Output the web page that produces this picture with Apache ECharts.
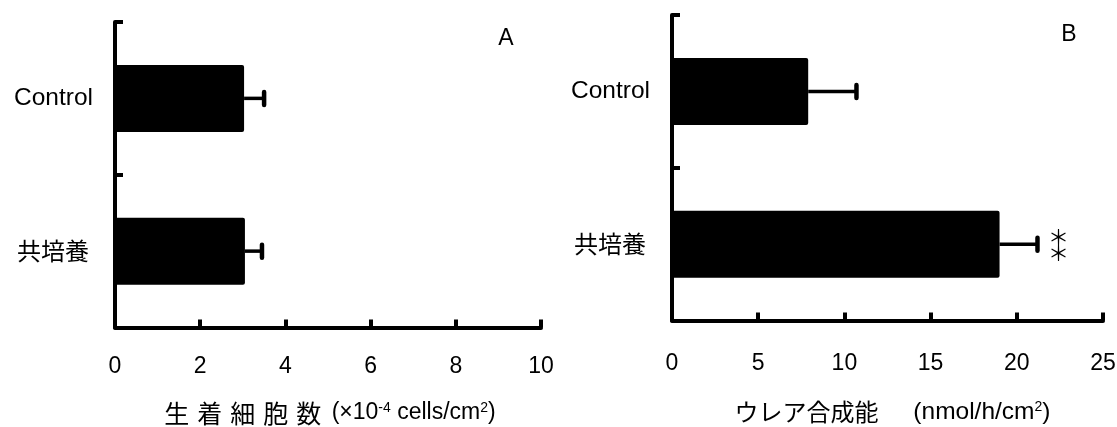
<!DOCTYPE html>
<html>
<head>
<meta charset="utf-8">
<script src="https://cdn.jsdelivr.net/npm/echarts@6/dist/echarts.min.js"></script>
<style>
html,body{margin:0;padding:0;background:#fff;}
#chart{width:1117px;height:427px;}
</style>
</head>
<body>
<div id="chart"></div>
<script>
// ---- data ----
const categories = ['Control', '共培養'];
const cellsMean = [3.03, 3.05];
const cellsErr = [0.47, 0.40];
const ureaMean = [7.9, 19.0];
const ureaErr = [2.8, 2.2];
const ureaSig = ['', '**'];
const cellsAxis = { min: 0, max: 10, interval: 2 };
const ureaAxis = { min: 0, max: 25, interval: 5 };
const panelLabels = ['A', 'B'];

const FONT = "'Liberation Sans', 'Noto Sans CJK JP', sans-serif";
const CJK = "'Noto Sans CJK JP', sans-serif";
const chart = echarts.init(document.getElementById('chart'));

function errRenderer(sig) {
  return function (params, api) {
    const cat = api.value(0), mean = api.value(1), err = api.value(2);
    const p0 = api.coord([mean, cat]);
    const p1 = api.coord([mean + err, cat]);
    const children = [
      { type: 'line', shape: { x1: p0[0], y1: p0[1], x2: p1[0], y2: p1[1] },
        style: { stroke: '#000', lineWidth: 3.5 } },
      { type: 'line', shape: { x1: p1[0], y1: p1[1] - 6.5, x2: p1[0], y2: p1[1] + 6.5 },
        style: { stroke: '#000', lineWidth: 4.5, lineCap: 'round' } }
    ];
    const s = sig ? sig[params.dataIndex] : '';
    if (s) {
      children.push({ type: 'text', x: p1[0] + 21, y: p1[1] + 1,
        style: { text: s.split('').map(() => '＊').join('\n'), fill: '#000',
          font: "21px 'Noto Sans CJK JP', sans-serif", lineHeight: 16,
          align: 'center', verticalAlign: 'middle' } });
    }
    return { type: 'group', children };
  };
}

const axisLineStyle = { show: true, lineStyle: { color: '#000', width: 4 } };
const tickStyle = { show: true, inside: true, length: 8, lineStyle: { color: '#000', width: 4 } };
const nameRich = {
  c: { fontSize: 25, lineHeight: 24, fontFamily: CJK, color: '#000', padding: [0, 4, 0, 4] },
  j: { fontSize: 24, lineHeight: 24, fontFamily: CJK, color: '#000', padding: [0, 4, 0, 10] },
  n: { fontSize: 23, lineHeight: 24, fontFamily: FONT, color: '#000' },
  m: { fontSize: 24.5, lineHeight: 24, fontFamily: FONT, color: '#000' },
  s: { fontSize: 14, lineHeight: 14, verticalAlign: 'top', fontFamily: FONT, color: '#000' }
};

function valueAxis(idx, ax, margin, name, nameGap) {
  return {
    type: 'value', gridIndex: idx, min: ax.min, max: ax.max, interval: ax.interval,
    axisLine: axisLineStyle, axisTick: tickStyle, splitLine: { show: false },
    axisLabel: { color: '#000', fontSize: 23, fontFamily: FONT, margin: margin },
    name: name, nameLocation: 'middle', nameGap: nameGap,
    nameTextStyle: { color: '#000', fontFamily: FONT, rich: nameRich }
  };
}
function catAxis(idx) {
  return {
    type: 'category', gridIndex: idx, data: categories, inverse: true,
    axisLine: axisLineStyle, axisTick: tickStyle,
    axisLabel: {
      color: '#000', fontSize: 24.5, fontFamily: FONT, margin: 22,
      formatter: v => (/[^\x00-\x7f]/.test(v) ? '{k|' + v + '}' : v),
      rich: { k: { fontSize: 24, fontFamily: CJK, color: '#000', padding: [0, 4, 0, 0] } }
    }
  };
}

const option = {
  backgroundColor: '#fff',
  animation: false,
  title: [
    { text: panelLabels[0], left: 501, top: 22, textAlign: 'center',
      textStyle: { fontSize: 23, fontWeight: 'normal', color: '#000', fontFamily: FONT } },
    { text: panelLabels[1], left: 1064, top: 18, textAlign: 'center',
      textStyle: { fontSize: 23, fontWeight: 'normal', color: '#000', fontFamily: FONT } }
  ],
  grid: [
    { left: 115, right: 576, top: 22, bottom: 99.5, outerBoundsMode: 'none', containLabel: false },
    { left: 672, right: 14, top: 15, bottom: 106.5, outerBoundsMode: 'none', containLabel: false }
  ],
  xAxis: [
    valueAxis(0, cellsAxis, 28,
      '{c|生}{c|着}{c|細}{c|胞}{c|数}{n| (×10}{s|-4}{n| cells/cm}{s|2}{n|)}', 73.5),
    valueAxis(1, ureaAxis, 32, '{j|ウレア合成能　}{m| (nmol/h/cm}{s|2}{m|)}', 79.5)
  ],
  yAxis: [catAxis(0), catAxis(1)],
  series: [
    { type: 'bar', xAxisIndex: 0, yAxisIndex: 0, data: cellsMean, barWidth: 67,
      itemStyle: { color: '#000', borderRadius: 2 } },
    { type: 'custom', xAxisIndex: 0, yAxisIndex: 0, renderItem: errRenderer(null),
      data: categories.map((c, i) => [i, cellsMean[i], cellsErr[i]]),
      encode: { x: 1, y: 0 }, z: 3 },
    { type: 'bar', xAxisIndex: 1, yAxisIndex: 1, data: ureaMean, barWidth: 67,
      itemStyle: { color: '#000', borderRadius: 2 } },
    { type: 'custom', xAxisIndex: 1, yAxisIndex: 1, renderItem: errRenderer(ureaSig),
      data: categories.map((c, i) => [i, ureaMean[i], ureaErr[i]]),
      encode: { x: 1, y: 0 }, z: 3 }
  ]
};
chart.setOption(option);
</script>
</body>
</html>
